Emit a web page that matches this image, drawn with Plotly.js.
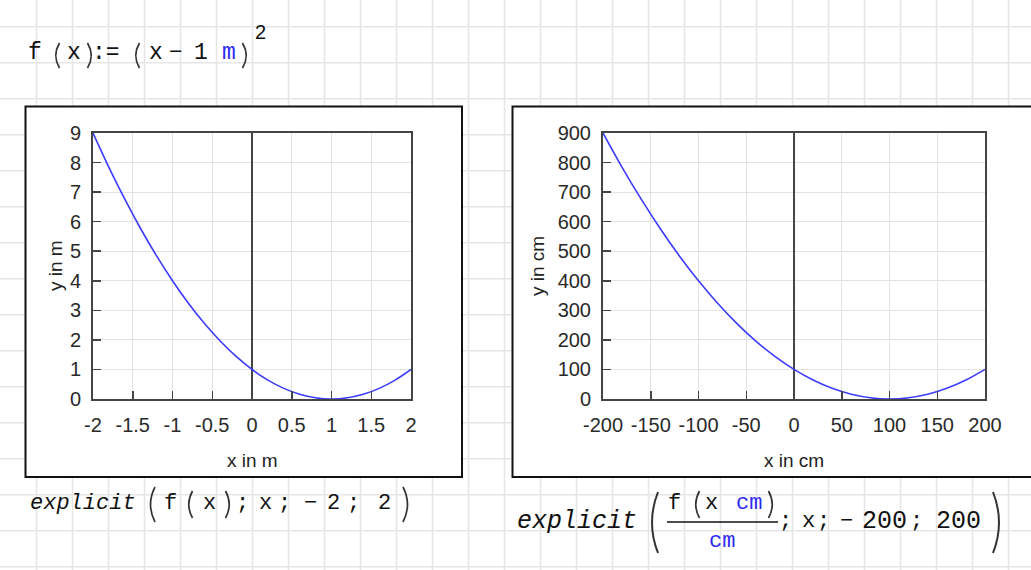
<!DOCTYPE html>
<html>
<head>
<meta charset="utf-8">
<script src="https://cdn.plot.ly/plotly-3.0.1.min.js"></script>
<style>
html,body{margin:0;padding:0;background:#fff;}
#chart{width:1031px;height:570px;}
</style>
</head>
<body>
<div id="chart"></div>
<script>
// ---- data ----
const leftX  = [-2,-1.8,-1.6,-1.4,-1.2,-1,-0.8,-0.6,-0.4,-0.2,0,0.2,0.4,0.6,0.8,1,1.2,1.4,1.6,1.8,2];
const leftY  = [9,7.84,6.76,5.76,4.84,4,3.24,2.56,1.96,1.44,1,0.64,0.36,0.16,0.04,0,0.04,0.16,0.36,0.64,1];
const rightX = [-200,-180,-160,-140,-120,-100,-80,-60,-40,-20,0,20,40,60,80,100,120,140,160,180,200];
const rightY = [900,784,676,576,484,400,324,256,196,144,100,64,36,16,4,0,4,16,36,64,100];

const leftXTicks     = [-2,-1.5,-1,-0.5,0,0.5,1,1.5,2];
const leftXTickText  = ["-2","-1.5","-1","-0.5","0","0.5","1","1.5","2"];
const leftYTicks     = [0,1,2,3,4,5,6,7,8,9];
const rightXTicks    = [-200,-150,-100,-50,0,50,100,150,200];
const rightXTickText = ["-200","-150","-100","-50","0","50","100","150","200"];
const rightYTicks    = [0,100,200,300,400,500,600,700,800,900];

const leftXTitle = "x in m", leftYTitle = "y in m";
const rightXTitle = "x in cm", rightYTitle = "y in cm";

// ---- helpers ----
const W = 1031, H = 570;
const PX = p => p / W;
const PY = p => 1 - p / H;

const SANS = "Liberation Sans, Arial, sans-serif";
const MONO = "Liberation Mono, Courier New, monospace";
const TXT = "#111";
const BLUE = "#2b2bf0";

const shapes = [];
// worksheet grid
for (let x = 36; x < W; x += 36) {
  shapes.push({type:'line', xref:'paper', yref:'paper', x0:PX(x+0.5), x1:PX(x+0.5), y0:0, y1:1,
    line:{color:'#e6e6e6', width:1.6}, layer:'below'});
}
for (let y = 26.7; y < H; y += 36) {
  shapes.push({type:'line', xref:'paper', yref:'paper', x0:0, x1:1, y0:PY(y), y1:PY(y),
    line:{color:'#e6e6e6', width:1.6}, layer:'below'});
}
// plot frames
shapes.push({type:'rect', xref:'paper', yref:'paper', x0:PX(25.5), x1:PX(462), y0:PY(477), y1:PY(106.5),
  line:{color:'#111', width:2}, fillcolor:'#fff', layer:'below'});
shapes.push({type:'rect', xref:'paper', yref:'paper', x0:PX(512.5), x1:PX(1040), y0:PY(477), y1:PY(106.5),
  line:{color:'#111', width:2}, fillcolor:'#fff', layer:'below'});
// fraction bar
shapes.push({type:'line', xref:'paper', yref:'paper', x0:PX(667), x1:PX(778), y0:PY(522), y1:PY(522),
  line:{color:TXT, width:1.5}});

// thin tall parentheses drawn as curves
function paren(open, cx, top, bot, w, lw) {
  const mid = (top + bot) / 2;
  const outer = open ? cx + w/2 : cx - w/2;
  const inner = open ? cx - w/2 - w*0.5 : cx + w/2 + w*0.5;
  const d = 'M ' + PX(outer) + ',' + PY(top) + ' Q ' + PX(inner) + ',' + PY(mid) + ' ' + PX(outer) + ',' + PY(bot);
  shapes.push({type:'path', xref:'paper', yref:'paper', path:d, line:{color:'#333', width: lw || 1.7}});
}

const annotations = [];
function tok(text, cx, cy, size, opts) {
  opts = opts || {};
  annotations.push({
    xref:'paper', yref:'paper', x:PX(cx), y:PY(cy), text:text, showarrow:false,
    xanchor:'center', yanchor:'middle',
    textangle: opts.angle || 0,
    font:{family: opts.family || MONO, size:size, color: opts.color || TXT, weight: opts.weight || 'normal'}
  });
}

// f(x) := (x - 1 m)^2
tok("f", 35, 53, 23);
paren(true, 57, 43, 68, 5);
tok("x", 73.5, 53, 23);
paren(false, 90, 43, 68, 5);
tok(":=", 106, 53, 23);
paren(true, 137, 43, 68, 5);
tok("x", 156, 53, 23);
tok("\u2212", 176, 53, 23);
tok("1", 200.5, 53, 23);
tok("m", 228.5, 53, 23, {color:BLUE});
paren(false, 245, 43, 68, 5);
tok("2", 260, 32, 20, {family:SANS});

// explicit(f(x); x; -2; 2)
tok("<i>explicit</i>", 83, 503, 22);
paren(true, 152, 487, 522, 6);
tok("f", 170, 503, 22);
paren(true, 190, 491, 518, 5);
tok("x", 209, 503, 22);
paren(false, 228, 491, 518, 5);
tok(";", 242, 503, 22);
tok("x", 265, 503, 22);
tok(";", 284, 503, 22);
tok("\u2212", 310, 503, 22);
tok("2", 333, 503, 22);
tok(";", 353, 503, 22);
tok("2", 384, 503, 22);
paren(false, 406, 487, 522, 6);

// explicit(f(x cm)/cm; x; -200; 200)
tok("<i>explicit</i>", 577, 521, 25);
paren(true, 654, 492, 553, 8, 2);
tok("f", 674, 503, 22);
paren(true, 697, 491, 518, 5);
tok("x", 711, 503, 22);
tok("cm", 749, 503, 22, {color:BLUE});
paren(false, 771, 491, 518, 5);
tok("cm", 722, 541, 22, {color:BLUE});
tok(";", 785, 521, 22);
tok("x", 808, 521, 22);
tok(";", 823, 521, 22);
tok("\u2212", 846, 521, 22);
tok("200", 884, 521, 25);
tok(";", 916, 521, 22);
tok("200", 958, 521, 25);
paren(false, 997, 492, 553, 8, 2);

// axis titles
tok(leftXTitle, 252, 460, 19, {family:SANS, color:'#222'});
tok(leftYTitle, 55, 266, 19, {family:SANS, color:'#222', angle:-90});
tok(rightXTitle, 794, 460, 19, {family:SANS, color:'#222'});
tok(rightYTitle, 537, 266, 19, {family:SANS, color:'#222', angle:-90});

function axisCommon() {
  return {
    ticks:'inside', ticklen:8, tickwidth:1.5, tickcolor:'#444',
    showline:true, mirror:true, linecolor:'#444', linewidth:2,
    showgrid:true, gridcolor:'#e2e2e2', gridwidth:1,
    tickfont:{family:SANS, size:20, color:'#2a2a2a'},
    fixedrange:true
  };
}

const xa1 = Object.assign(axisCommon(), {
  domain:[PX(93), PX(411)], range:[-2,2], tickmode:'array', tickvals:leftXTicks, ticktext:leftXTickText,
  anchor:'y', zeroline:true, zerolinecolor:'#444', zerolinewidth:2, ticklabelstandoff:7
});
const ya1 = Object.assign(axisCommon(), {
  domain:[1-399/H, 1-133/H], range:[0,9], tickmode:'array', tickvals:leftYTicks,
  anchor:'x', zeroline:false, ticklabelstandoff:6
});
const xa2 = Object.assign(axisCommon(), {
  domain:[PX(603), PX(985)], range:[-200,200], tickmode:'array', tickvals:rightXTicks, ticktext:rightXTickText,
  anchor:'y2', zeroline:true, zerolinecolor:'#444', zerolinewidth:2, ticklabelstandoff:7
});
const ya2 = Object.assign(axisCommon(), {
  domain:[1-399/H, 1-133/H], range:[0,900], tickmode:'array', tickvals:rightYTicks,
  anchor:'x2', zeroline:false, ticklabelstandoff:6
});

const traces = [
  {x:leftX, y:leftY, xaxis:'x', yaxis:'y', type:'scatter', mode:'lines',
   line:{color:'#3c3cff', width:1.6, shape:'spline'}, hoverinfo:'skip'},
  {x:rightX, y:rightY, xaxis:'x2', yaxis:'y2', type:'scatter', mode:'lines',
   line:{color:'#3c3cff', width:1.6, shape:'spline'}, hoverinfo:'skip'}
];

const layout = {
  width:W, height:H,
  margin:{l:0, r:0, t:0, b:0, pad:0},
  paper_bgcolor:'#fff', plot_bgcolor:'#fff',
  showlegend:false,
  xaxis:xa1, yaxis:ya1, xaxis2:xa2, yaxis2:ya2,
  shapes:shapes, annotations:annotations
};

Plotly.newPlot('chart', traces, layout, {displayModeBar:false, staticPlot:true});
</script>
</body>
</html>
